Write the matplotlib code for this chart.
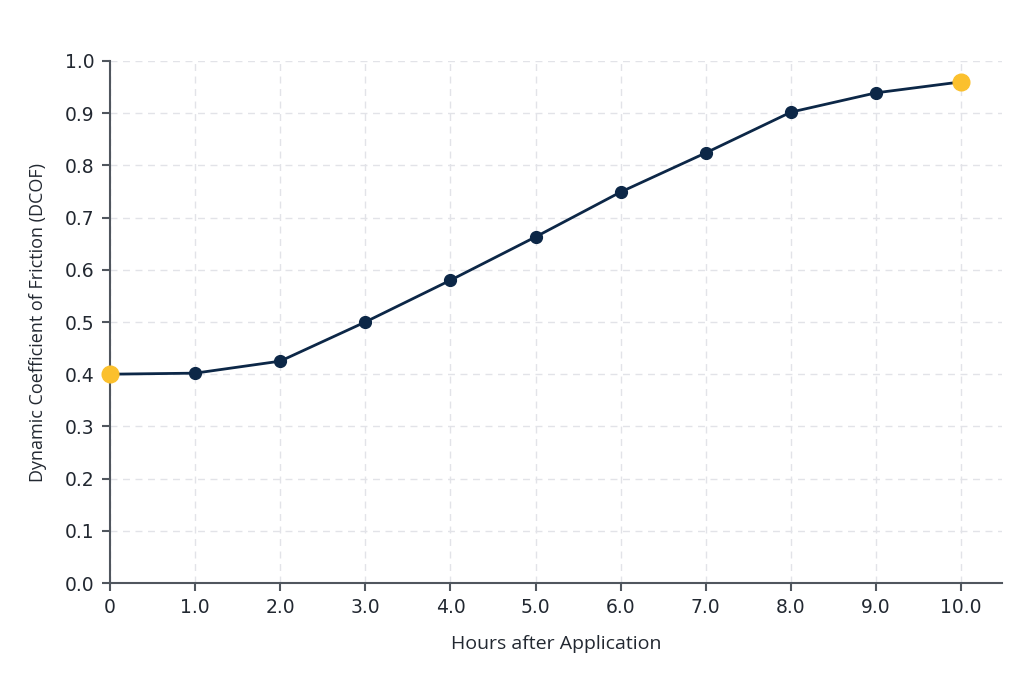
import matplotlib
matplotlib.use("Agg")
import matplotlib.pyplot as plt

# Data
hours = [0, 1, 2, 3, 4, 5, 6, 7, 8, 9, 10]
dcof = [0.400, 0.402, 0.425, 0.500, 0.580, 0.663, 0.749, 0.824, 0.902, 0.939, 0.960]
x_tick_labels = ["0", "1.0", "2.0", "3.0", "4.0", "5.0", "6.0", "7.0", "8.0", "9.0", "10.0"]
y_ticks = [0.0, 0.1, 0.2, 0.3, 0.4, 0.5, 0.6, 0.7, 0.8, 0.9, 1.0]

navy = "#0c2747"
yellow = "#fbc02d"
spine_col = "#50565e"
grid_col = "#e2e3e8"
text_col = "#222831"

plt.rcParams["font.family"] = ["DejaVu Sans"]

fig = plt.figure(figsize=(10.24, 6.83), dpi=100)
ax = fig.add_axes([0.1074, 0.1464, 0.8711, 0.7643])

ax.plot(hours, dcof, color=navy, linewidth=2, zorder=3)
ax.plot(hours[1:-1], dcof[1:-1], linestyle="none", marker="o", markersize=8.5,
        color=navy, zorder=4)
# endpoints highlighted
ax.plot([hours[0], hours[-1]], [dcof[0], dcof[-1]], linestyle="none", marker="o",
        markersize=12, color=yellow, zorder=5, clip_on=False)

ax.set_xlim(0, 10.48)
ax.set_ylim(0, 1.0)
ax.set_xticks(hours)
ax.set_xticklabels(x_tick_labels)
ax.set_yticks(y_ticks)
ax.set_yticklabels([f"{v:.1f}" for v in y_ticks])

ax.grid(True, linestyle=(0, (5, 4)), color=grid_col, linewidth=1, zorder=0)
ax.set_axisbelow(True)

for s in ["top", "right"]:
    ax.spines[s].set_visible(False)
for s in ["left", "bottom"]:
    ax.spines[s].set_color(spine_col)
    ax.spines[s].set_linewidth(1.5)

ax.tick_params(axis="both", colors=spine_col, length=6, width=1.5, labelsize=13.5,
               labelcolor=text_col, pad=5)

ax.set_xlabel("Hours after Application", fontsize=14, family="Open Sans",
              color=text_col, labelpad=13)
ax.set_ylabel("Dynamic Coefficient of Friction (DCOF)", fontsize=13, family="Open Sans",
              color=text_col, labelpad=13)

fig.savefig("out.png", dpi=100, facecolor="white")
